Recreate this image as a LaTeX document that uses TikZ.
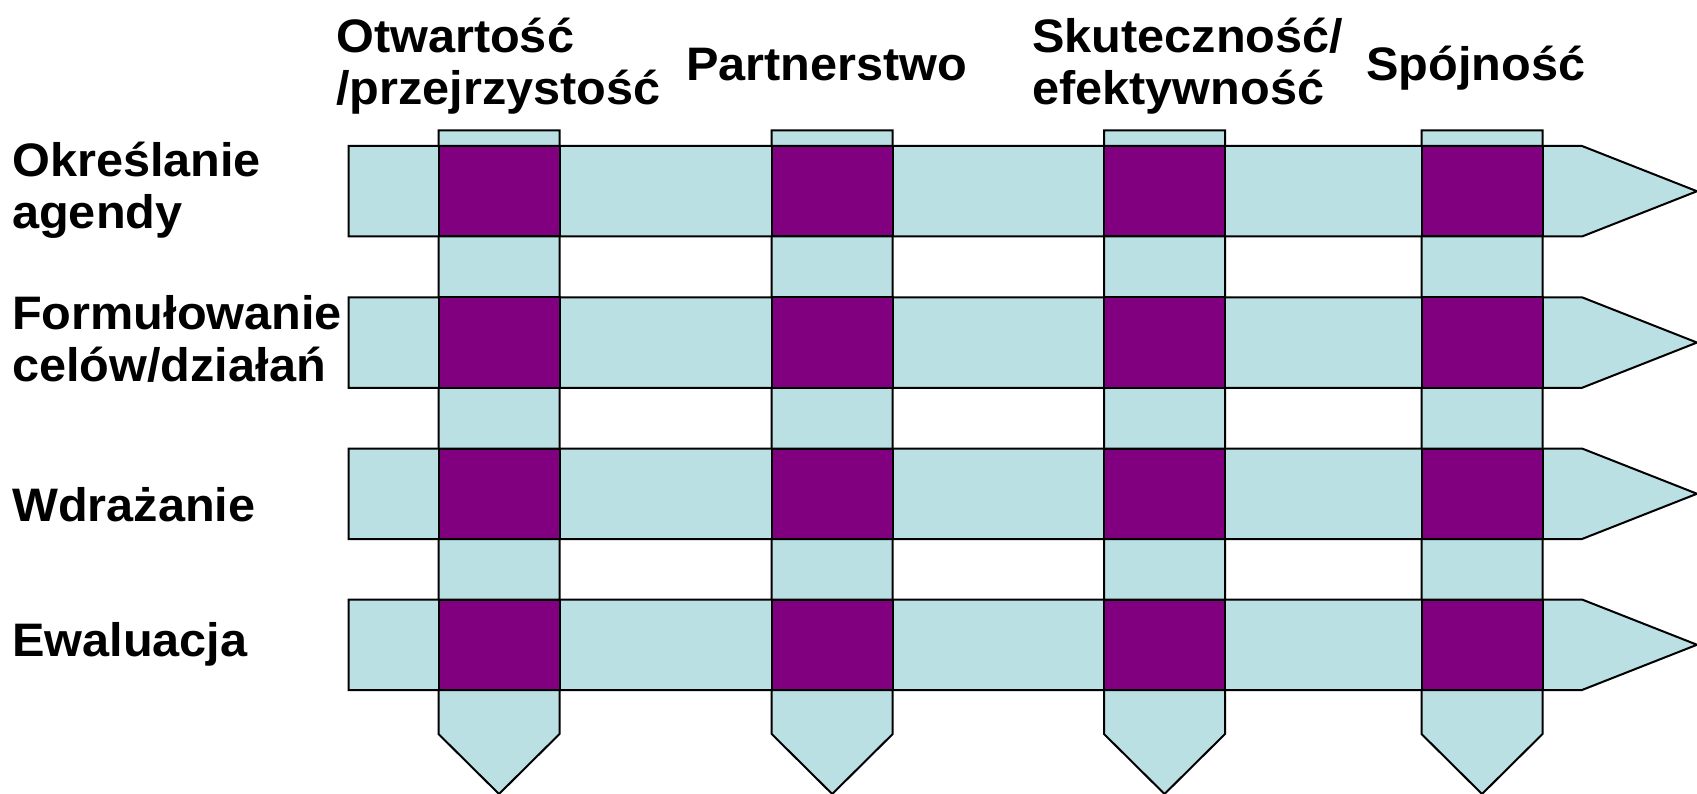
\documentclass[tikz,border=0pt]{standalone}
\usepackage{fontspec}
\newfontfamily\labfont[FakeStretch=1.035]{Liberation Sans}
\definecolor{lightfill}{HTML}{BBE0E3}
\definecolor{cellfill}{HTML}{800080}
\tikzset{
  shapeline/.style={draw=black, line width=2pt, line join=miter},
  colshape/.style={shapeline, fill=lightfill},
  bandshape/.style={shapeline, fill=lightfill},
  cellshape/.style={shapeline, fill=cellfill},
  lab/.style={anchor=base west, inner sep=0pt, font=\labfont\bfseries\fontsize{47}{52}\selectfont}
}
\newcommand{\twolines}[2]{\begin{tabular}[t]{@{}l@{}}#1\\#2\end{tabular}}
\begin{document}
\begin{tikzpicture}[x=1pt,y=-1pt]
\useasboundingbox (0,0) rectangle (1697,794);
% columns
\foreach \cx in {499, 832.2, 1164.5, 1482}{
  \draw[colshape] (\cx-60.5,130.5) -- (\cx+60.5,130.5) -- (\cx+60.5,734) -- (\cx,794) -- (\cx-60.5,734) -- cycle;
}
% bands with cells
\foreach \t in {146, 297.3, 448.5, 599.5}{
  \draw[bandshape] (348.5,\t) -- (1582,\t) -- (1697,\t+45.25) -- (1582,\t+90.5) -- (348.5,\t+90.5) -- cycle;
  \foreach \cx in {499, 832.2, 1164.5, 1482}{
    \draw[cellshape] (\cx-60.5,\t) rectangle (\cx+60.5,\t+90.5);
  }
}
% column headers
\node[lab] (h1) at (336,52.5) {\twolines{Otwartość}{/przejrzystość}};
\node[lab] (h2) at (686,80.5) {Partnerstwo};
\node[lab] (h3) at (1032,52.5) {\twolines{Skuteczność/}{efektywność}};
\node[lab] (h4) at (1366,80.5) {Spójność};
% row labels
\node[lab] (r1) at (12,177) {\twolines{Określanie}{agendy}};
\node[lab] (r2) at (12,329) {\twolines{Formułowanie}{celów/działań}};
\node[lab] (r3) at (12,521) {Wdrażanie};
\node[lab] (r4) at (12,656.5) {Ewaluacja};
\end{tikzpicture}
\end{document}
